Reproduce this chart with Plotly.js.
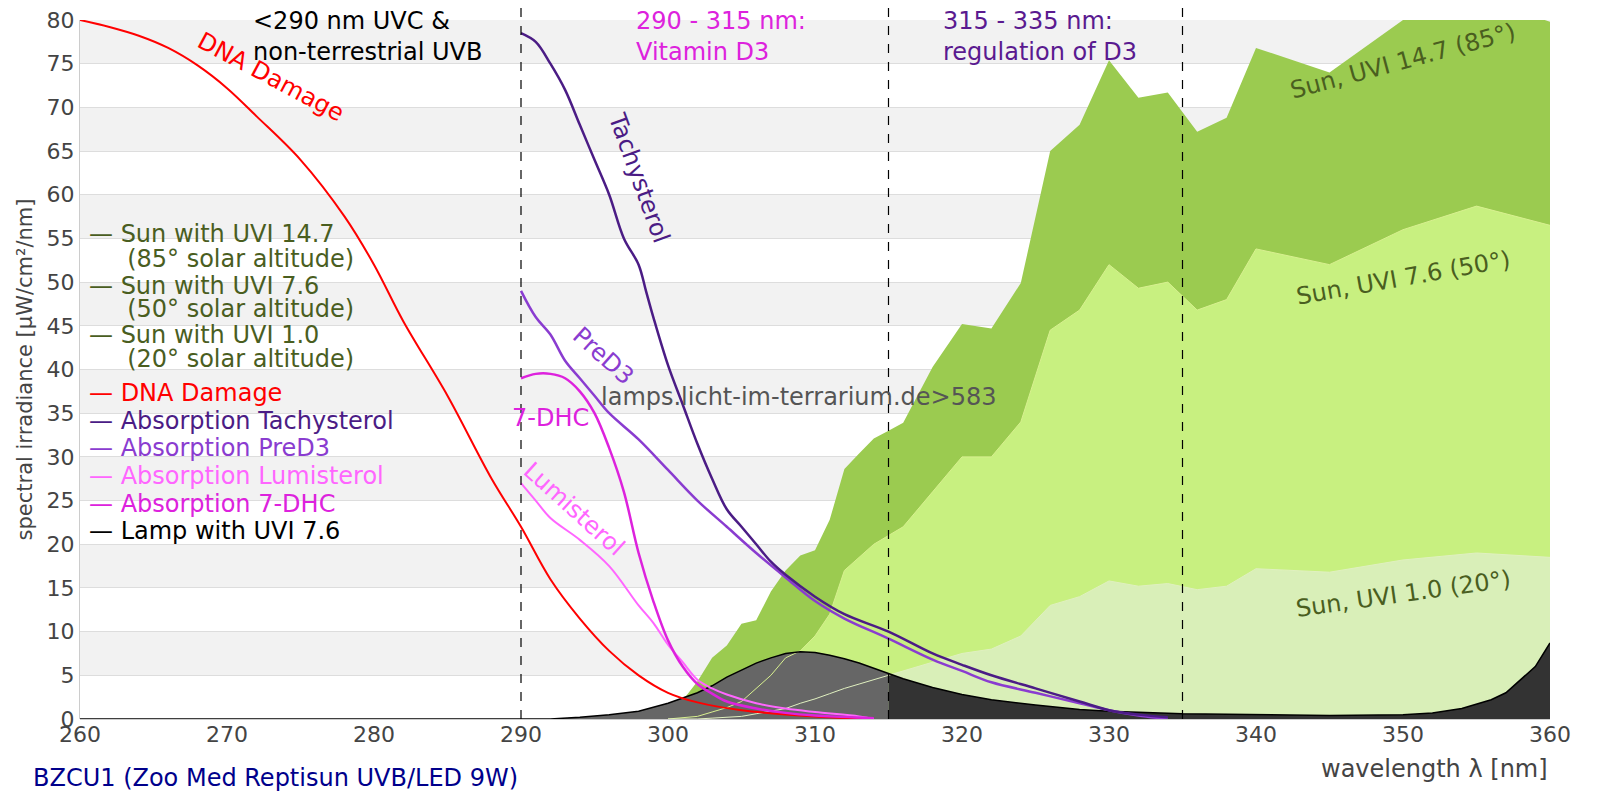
<!DOCTYPE html>
<html>
<head>
<meta charset="utf-8">
<script src="https://cdn.plot.ly/plotly-3.0.1.min.js"></script>
<style>html,body{margin:0;padding:0;background:#fff}#chart{width:1600px;height:800px}</style>
</head>
<body>
<div id="chart"></div>
<script>
// wavelengths and values
var dnaX = [260, 262, 264, 266, 268, 270, 272, 275, 278, 280, 282, 285, 288, 290, 292, 294, 296, 298, 300, 302, 305, 310, 314];
var dnaY = [80, 79.2, 78.2, 76.8, 74.8, 72.2, 69, 64, 57.5, 52, 45.5, 37, 27.5, 22, 16, 11.5, 7.8, 5, 3, 1.9, 1, 0.3, 0];

var tachyX = [290, 291, 292, 293, 294, 295, 296, 297, 298, 298.5, 299, 300, 301, 302, 303, 304, 305, 306, 307, 308, 310, 312, 315, 318, 320, 322, 325, 328, 330, 332, 334];
var tachyY = [78.5, 77.5, 75, 72, 68, 64, 60, 55, 52, 49, 46, 40.5, 36, 31.5, 27.5, 24, 22, 20, 18, 16.5, 14, 12, 10, 7.5, 6.2, 5, 3.5, 2, 1, 0.5, 0.2];

var preX = [290, 291, 292, 293, 294, 295, 296, 298, 300, 302, 304, 306, 308, 310, 312, 315, 318, 320, 322, 325, 328, 330, 332, 334];
var preY = [49, 46, 44, 41, 39, 37, 35, 32, 28.5, 25, 22, 19, 16.2, 13.5, 11.5, 9.2, 6.8, 5.5, 4.2, 3, 1.8, 1, 0.4, 0];

var dhcX = [290, 291, 292, 293, 294, 295, 296, 297, 298, 299, 300, 301, 302, 303, 304, 306, 308, 310, 314];
var dhcY = [39, 39.5, 39.5, 39, 37.5, 35, 31, 26, 19, 13.5, 9, 6, 4, 2.9, 2, 1.2, 0.7, 0.4, 0.1];

var lumiX = [290, 291, 292, 294, 296, 298, 299, 300, 301, 302, 303, 304, 306, 308, 310, 313, 314];
var lumiY = [27, 25, 23, 20.5, 17.5, 13, 11, 8.5, 6.5, 4.5, 3.5, 2.8, 1.8, 1.2, 0.8, 0.3, 0];

var sunX = [300, 302, 303, 304, 305, 306, 307, 308, 309, 310, 311, 312, 313, 314, 315, 316, 318, 320, 322, 324, 326, 328, 330, 332, 334, 336, 338, 340, 345, 350, 355, 360];
var sun147 = [0, 4.3, 7, 8.4, 10.9, 11.3, 14.6, 17, 18.7, 19.3, 22.8, 28.6, 30.4, 32.1, 33, 33.9, 40.3, 45.2, 44.7, 49.9, 65, 68, 75.4, 71.1, 71.7, 67.2, 68.8, 76.8, 74, 80, 82.6, 79.8];
var sun76 = [0, 0.3, 0.8, 1.3, 2, 3.5, 5, 7, 7.8, 9.5, 12, 17, 18.5, 20, 21, 22, 26, 30, 30, 34, 44.5, 46.8, 52, 49.3, 50, 46.8, 48, 53.8, 52, 56, 58.7, 56.5];
var sun10 = [0, 0, 0.1, 0.2, 0.3, 0.6, 0.9, 1.2, 1.8, 2.3, 2.9, 3.5, 4, 4.5, 5, 5.5, 6.5, 7.5, 8, 9.5, 13, 14, 15.8, 15.2, 15.5, 14.8, 15.2, 17.2, 16.8, 18.2, 19, 18.5];

var lampX = [260, 292, 294, 296, 298, 300, 302, 303, 304, 305, 306, 307, 308, 309, 310, 311, 312, 313, 314, 315, 316, 318, 320, 322, 325, 328, 330, 335, 340, 345, 350, 352, 354, 356, 357, 358, 359, 360];
var lampY = [0, 0, 0.2, 0.5, 0.9, 1.8, 3, 3.8, 4.8, 5.6, 6.4, 7, 7.5, 7.7, 7.6, 7.3, 6.9, 6.4, 5.8, 5.2, 4.6, 3.6, 2.8, 2.2, 1.6, 1.1, 0.9, 0.6, 0.5, 0.4, 0.5, 0.7, 1.2, 2.2, 3, 4.5, 6, 8.7];

var regionLines = [290, 315, 335];
var yTicks = [0, 5, 10, 15, 20, 25, 30, 35, 40, 45, 50, 55, 60, 65, 70, 75, 80];

var font = 'DejaVu Sans, sans-serif';
var olive = '#4a5e1f';
var fs = 24;

function lampPart(lo, hi) {
  var x = [], y = [];
  lampX.forEach(function(v, i) { if (v >= lo && v <= hi) { x.push(v); y.push(lampY[i]); } });
  return {x: x, y: y};
}
var lampA = lampPart(260, 315), lampB = lampPart(315, 360);

var traces = [
  {x: sunX, y: sun147, type: 'scatter', mode: 'lines', fill: 'tozeroy', fillcolor: '#9bcb50', line: {width: 0, color: '#9bcb50'}},
  {x: sunX, y: sun76, type: 'scatter', mode: 'lines', fill: 'tozeroy', fillcolor: '#c8f080', line: {width: 0, color: '#c8f080'}},
  {x: sunX, y: sun10, type: 'scatter', mode: 'lines', fill: 'tozeroy', fillcolor: '#d9efb8', line: {width: 0, color: '#d9efb8'}},
  {x: lampA.x, y: lampA.y, type: 'scatter', mode: 'lines', fill: 'tozeroy', fillcolor: '#666666', line: {width: 0}},
  {x: lampB.x, y: lampB.y, type: 'scatter', mode: 'lines', fill: 'tozeroy', fillcolor: '#333333', line: {width: 0}},
  {x: sunX, y: sun76, type: 'scatter', mode: 'lines', line: {width: 1, color: '#d8f090'}},
  {x: sunX, y: sun10, type: 'scatter', mode: 'lines', line: {width: 1, color: '#e0f0c0'}},
  {x: lampX, y: lampY, type: 'scatter', mode: 'lines', line: {width: 1.5, color: '#000'}},
  {x: dnaX, y: dnaY, type: 'scatter', mode: 'lines', line: {width: 2, color: '#ff0000', shape: 'spline'}},
  {x: lumiX, y: lumiY, type: 'scatter', mode: 'lines', line: {width: 2, color: '#ff66ff', shape: 'spline'}},
  {x: dhcX, y: dhcY, type: 'scatter', mode: 'lines', line: {width: 2.5, color: '#dd22dd', shape: 'spline'}},
  {x: preX, y: preY, type: 'scatter', mode: 'lines', line: {width: 2.5, color: '#8a3cd0', shape: 'spline'}},
  {x: tachyX, y: tachyY, type: 'scatter', mode: 'lines', line: {width: 2.5, color: '#4b1c85', shape: 'spline'}}
];

var shapes = [];
for (var s = 5; s < 80; s += 10) {
  shapes.push({type: 'rect', xref: 'paper', x0: 0, x1: 1, yref: 'y', y0: s, y1: s + 5, fillcolor: '#f2f2f2', line: {width: 0}, layer: 'below'});
}
regionLines.forEach(function(v) {
  shapes.push({type: 'line', xref: 'x', x0: v, x1: v, yref: 'paper', y0: 0, y1: 1.03, line: {color: '#000', width: 1.2, dash: 'dash'}, layer: 'above'});
});

var legendItems = [
  ['— Sun with UVI 14.7', olive, 55.5],
  ['     (85° solar altitude)', olive, 52.6],
  ['— Sun with UVI 7.6', olive, 49.6],
  ['     (50° solar altitude)', olive, 46.9],
  ['— Sun with UVI 1.0', olive, 44],
  ['     (20° solar altitude)', olive, 41.2],
  ['— DNA Damage', '#ff0000', 37.3],
  ['— Absorption Tachysterol', '#4b1c85', 34.1],
  ['— Absorption PreD3', '#8a3cd0', 31],
  ['— Absorption Lumisterol', '#ff66ff', 27.8],
  ['— Absorption 7-DHC', '#dd22dd', 24.6],
  ['— Lamp with UVI 7.6', '#000000', 21.5]
];
var annotations = legendItems.map(function(it) {
  return {x: 260.5, y: it[2], xref: 'x', yref: 'y', text: it[0], showarrow: false, xanchor: 'left', yanchor: 'middle', font: {family: font, size: fs, color: it[1]}};
});
function lab(x, y, text, color, angle) {
  annotations.push({x: x, y: y, xref: 'x', yref: 'y', text: text, showarrow: false, textangle: angle, font: {family: font, size: fs, color: color}});
}
lab(273, 73.5, 'DNA Damage', '#ff0000', 28);
lab(298, 62, 'Tachysterol', '#4b1c85', 70);
lab(295.6, 41.5, 'PreD3', '#8a3cd0', 42);
lab(292, 34.5, '7-DHC', '#dd22dd', 0);
lab(293.6, 24, 'Lumisterol', '#ff66ff', 42);
lab(308.9, 36.8, 'lamps.licht-im-terrarium.de>583', '#555555', 0);
lab(350, 75.3, 'Sun, UVI 14.7 (85°)', olive, -15);
lab(350, 50.5, 'Sun, UVI 7.6 (50°)', olive, -10);
lab(350, 14.3, 'Sun, UVI 1.0 (20°)', olive, -8);

function headLabel(x, text, color) {
  annotations.push({x: x, y: 1.022, xref: 'x', yref: 'paper', text: text, showarrow: false, xanchor: 'left', yanchor: 'top', align: 'left', font: {family: font, size: fs, color: color}});
}
headLabel(271.6, '<290 nm UVC &<br>non-terrestrial UVB', '#000');
headLabel(297.7, '290 - 315 nm:<br>Vitamin D3', '#dd22dd');
headLabel(318.6, '315 - 335 nm:<br>regulation of D3', '#5a1a90');

annotations.push({x: 1, y: -0.048, xref: 'paper', yref: 'paper', text: 'wavelength λ [nm]', showarrow: false, xanchor: 'right', yanchor: 'top', font: {family: font, size: fs, color: '#444'}});
annotations.push({x: -0.033, y: -0.062, xref: 'paper', yref: 'paper', text: 'BZCU1 (Zoo Med Reptisun UVB/LED 9W)', showarrow: false, xanchor: 'left', yanchor: 'top', font: {family: font, size: fs, color: '#00008b'}});

var layout = {
  width: 1600, height: 800,
  margin: {l: 80, r: 50, t: 20, b: 81},
  paper_bgcolor: '#fff', plot_bgcolor: '#fff',
  showlegend: false,
  font: {family: font, size: fs, color: '#444'},
  xaxis: {range: [260, 360], dtick: 10, showgrid: false, zeroline: false, ticks: '', showline: false, tickfont: {size: 22, color: '#444'}},
  yaxis: {range: [0, 80], tickvals: yTicks, gridcolor: '#dddddd', zeroline: true, zerolinecolor: '#cccccc', ticks: '', tickfont: {size: 22, color: '#444'}, title: {text: 'spectral irradiance [μW/cm²/nm]', font: {size: 21, color: '#444'}, standoff: 8}, showline: true, linecolor: '#cccccc'},
  shapes: shapes,
  annotations: annotations
};

Plotly.newPlot('chart', traces, layout, {displayModeBar: false, staticPlot: true});
</script>
</body>
</html>
